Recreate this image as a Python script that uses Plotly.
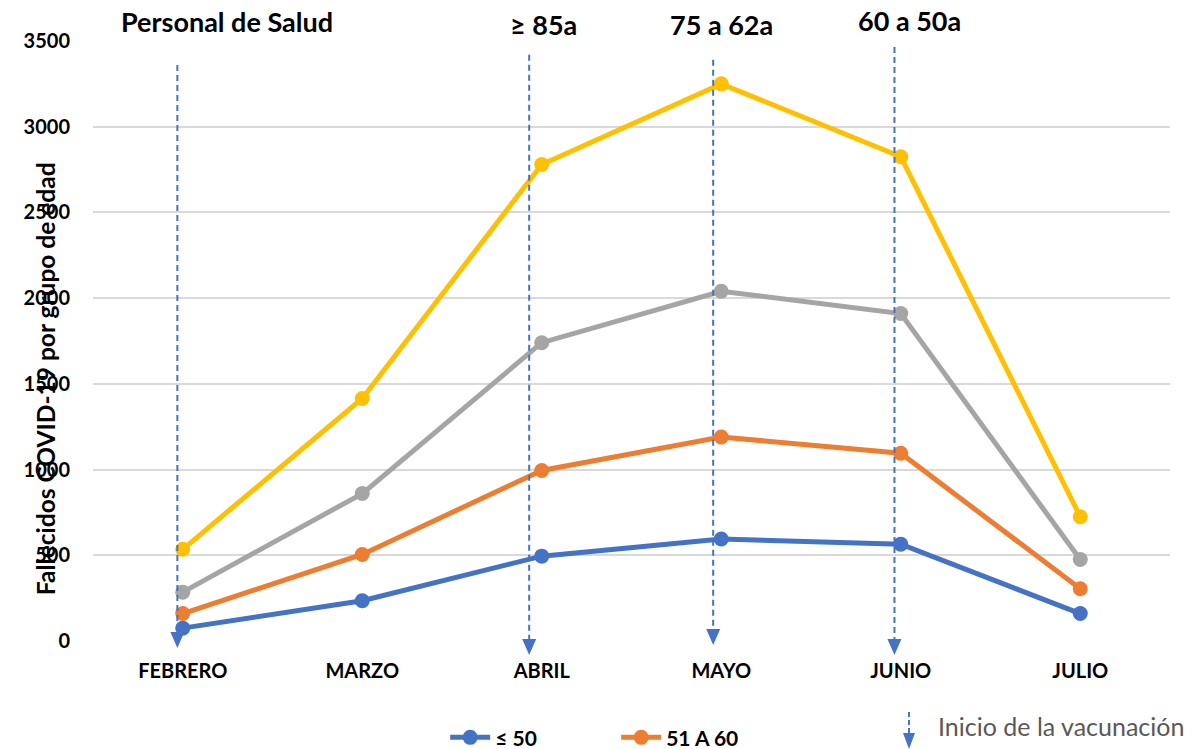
import plotly.graph_objects as go

months = ["FEBRERO", "MARZO", "ABRIL", "MAYO", "JUNIO", "JULIO"]
# cumulative (stacked) values as plotted
s_le50 = [75, 235, 495, 595, 565, 160]
s_51_60 = [160, 505, 995, 1190, 1095, 305]
s_61_70 = [285, 860, 1740, 2040, 1910, 475]
s_ge71 = [535, 1415, 2780, 3250, 2825, 725]

series_names = ["≤ 50", "51 A 60", "61 A 70", "≥ 71"]
series_colors = ["#4472C4", "#ED7D31", "#A5A5A5", "#FFC000"]
series_legend = [True, True, False, False]

# vaccination start markers (category index, line top, arrow tip in data units)
arrow_x = [-0.03, 1.93, 2.955, 3.965]
arrow_top = [3360, 3420, 3390, 3465]
arrow_tip = [-41, -82, -23, -82]
group_labels = ["Personal de Salud", "≥ 85a", "75 a 62a", "60 a 50a"]
label_x = [0.2465, 2.0125, 3.0, 4.046]
label_y = [1.032, 1.028, 1.028, 1.035]

FONT = "Lato"
Y_MAX = 3500
N = len(months)
xs = list(range(N))

def xp(v):
    return (v + 0.5) / N

def yp(v):
    return v / Y_MAX

fig = go.Figure()
all_series = [s_le50, s_51_60, s_61_70, s_ge71]
for name, vals, col, show in zip(series_names, all_series, series_colors, series_legend):
    fig.add_trace(go.Scatter(
        x=xs, y=vals, name=name, mode="lines+markers",
        line=dict(color=col, width=5),
        marker=dict(color=col, size=15),
        showlegend=show, cliponaxis=False,
    ))

# dashed vaccination lines with arrow heads (paper coords so they are not clipped)
TRI_H = 16 / 600
TRI_W = 7 / 1077
for ax, top, tip in zip(arrow_x, arrow_top, arrow_tip):
    x0 = xp(ax)
    ytip = yp(tip)
    fig.add_shape(type="line", xref="paper", yref="paper",
                  x0=x0, x1=x0, y0=yp(top), y1=ytip + TRI_H,
                  line=dict(color="#4472C4", width=2, dash="6px,4px"))
    fig.add_shape(type="path", xref="paper", yref="paper",
                  path=f"M {x0 - TRI_W} {ytip + TRI_H} L {x0 + TRI_W} {ytip + TRI_H} L {x0} {ytip} Z",
                  fillcolor="#4472C4", line=dict(width=0))

# white boxes behind the top labels (interrupt the top gridline as in the reference)
for b0, b1 in [(100, 287), (492, 578), (651, 763), (838, 949)]:
    fig.add_shape(type="rect", xref="paper", yref="paper",
                  x0=(b0 - 93) / 1077, x1=(b1 - 93) / 1077, y0=0.995, y1=1.005,
                  fillcolor="white", line=dict(width=0), layer="above")

for txt, lx, ly in zip(group_labels, label_x, label_y):
    fig.add_annotation(x=lx, y=ly, xref="x", yref="paper", text=f"<b>{txt}</b>", showarrow=False,
                       font=dict(family=FONT, size=27, color="#000000"),
                       xanchor="center", yanchor="middle")

# y-axis title overlapping the tick labels, as in the reference
fig.add_annotation(xref="paper", yref="paper", x=-0.0446, y=0.438,
                   text="<b>Fallecidos COVID-19 por grupo de edad</b>",
                   textangle=-90, showarrow=False,
                   font=dict(family=FONT, size=24.5, color="#000000"),
                   xanchor="center", yanchor="middle")

# legend item for vaccination start
lx0 = (909 - 93) / 1077
fig.add_shape(type="line", xref="paper", yref="paper",
              x0=lx0, x1=lx0, y0=(641 - 712) / 600, y1=(641 - 733) / 600,
              line=dict(color="#4472C4", width=2, dash="5px,3px"))
fig.add_shape(type="path", xref="paper", yref="paper",
              path=f"M {lx0 - 6/1077} {(641-733)/600} L {lx0 + 6/1077} {(641-733)/600} L {lx0} {(641-749)/600} Z",
              fillcolor="#4472C4", line=dict(width=0))
fig.add_annotation(xref="paper", yref="paper", x=(936 - 93) / 1077, y=(641 - 726) / 600,
                   text="Inicio de la vacunación", showarrow=False,
                   font=dict(family=FONT, size=25, color="#595959"),
                   xanchor="left", yanchor="middle")

fig.update_layout(
    width=1196, height=749,
    margin=dict(l=93, r=26, t=41, b=108, autoexpand=False),
    paper_bgcolor="white", plot_bgcolor="white",
    font=dict(family=FONT, color="#000000"),
    showlegend=True,
    legend=dict(orientation="h", x=0.327, y=-0.127, xanchor="left", yanchor="top",
                font=dict(family=FONT, size=21, color="#000000", weight="bold"),
                entrywidth=116, itemwidth=40, bgcolor="rgba(0,0,0,0)"),
    xaxis=dict(range=[-0.5, N - 0.5], tickvals=xs, ticktext=months,
               showgrid=False, zeroline=False, showline=False, ticks="",
               tickfont=dict(family=FONT, size=20, color="#000000", weight="bold"),
               ticklabelstandoff=16),
    yaxis=dict(range=[0, Y_MAX], dtick=500, showgrid=True, gridcolor="#D9D9D9",
               gridwidth=1.5, zeroline=False, showline=False, ticks="",
               tickfont=dict(family=FONT, size=20, color="#000000", weight="bold"),
               ticklabelstandoff=22),
)

fig.write_html("out.html", config={"displayModeBar": False},
               post_script="document.body.style.margin='0';document.body.style.overflow='hidden';")
